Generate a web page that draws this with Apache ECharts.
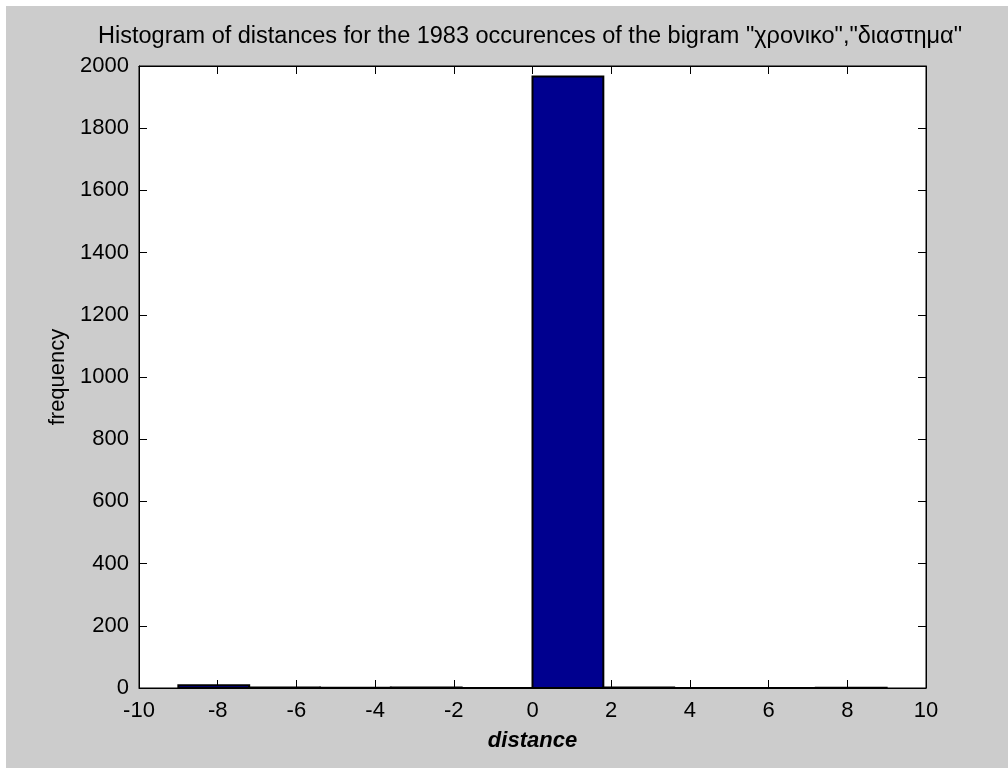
<!DOCTYPE html>
<html>
<head>
<meta charset="utf-8">
<script src="https://cdn.jsdelivr.net/npm/echarts@6/dist/echarts.min.js"></script>
<style>
html,body{margin:0;padding:0;background:#ffffff;}
#c{width:1008px;height:768px;}
</style>
</head>
<body>
<div id="c"></div>
<script>
// Histogram bins (MATLAB hist, 10 bins between -9 and 9)
const binStarts = [-9, -7.2, -5.4, -3.6, -1.8, 0, 1.8, 3.6, 5.4, 7.2];
const binEnds   = [-7.2, -5.4, -3.6, -1.8, 0, 1.8, 3.6, 5.4, 7.2, 9];
const counts    = [9, 2, 1, 2, 0, 1966, 2, 0, 0, 1];
const xTicks = [-10, -8, -6, -4, -2, 0, 2, 4, 6, 8, 10];
const yTicks = [0, 200, 400, 600, 800, 1000, 1200, 1400, 1600, 1800, 2000];
const titleText = 'Histogram of distances for the 1983 occurences of the bigram "χρονικο","διαστημα"';

const FONT = '"Liberation Sans", Arial, sans-serif';
const chart = echarts.init(document.getElementById('c'), null, {renderer: 'canvas'});

const data = binStarts.map((s, i) => [s, binEnds[i], counts[i]]);
const plain = v => String(v);

const option = {
  backgroundColor: '#cccccc',
  animation: false,
  graphic: [
    {type: 'rect', shape: {x: 0, y: 0, width: 1008, height: 6}, style: {fill: '#ffffff'}, silent: true},
    {type: 'rect', shape: {x: 0, y: 0, width: 6, height: 768}, style: {fill: '#ffffff'}, silent: true},
    {type: 'text', x: 530, y: 37, style: {text: titleText, font: '23.5px ' + FONT, fill: '#000', textAlign: 'center', textVerticalAlign: 'middle'}, silent: true}
  ],
  grid: {left: 139, top: 66, right: 82, bottom: 80, show: true, backgroundColor: '#ffffff', borderColor: '#000', borderWidth: 1},
  xAxis: [
    {type: 'value', min: xTicks[0], max: xTicks[xTicks.length - 1], interval: 2, position: 'bottom',
     name: 'distance', nameLocation: 'middle', nameGap: 42,
     nameTextStyle: {fontFamily: FONT, fontSize: 22, fontWeight: 'bold', fontStyle: 'italic', color: '#000'},
     axisLine: {show: true, onZero: false, lineStyle: {color: '#000', width: 1}},
     axisTick: {show: true, inside: true, length: 8, lineStyle: {color: '#000'}},
     axisLabel: {fontFamily: FONT, fontSize: 22, color: '#000', margin: 12, formatter: plain},
     splitLine: {show: false}},
    {type: 'value', min: xTicks[0], max: xTicks[xTicks.length - 1], interval: 2, position: 'top',
     axisLine: {show: true, onZero: false, lineStyle: {color: '#000', width: 1}},
     axisTick: {show: true, inside: true, length: 8, lineStyle: {color: '#000'}},
     axisLabel: {show: false}, splitLine: {show: false}}
  ],
  yAxis: [
    {type: 'value', min: yTicks[0], max: yTicks[yTicks.length - 1], interval: 200, position: 'left',
     name: 'frequency', nameLocation: 'middle', nameGap: 64,
     nameTextStyle: {fontFamily: FONT, fontSize: 22, color: '#000'},
     axisLine: {show: true, onZero: false, lineStyle: {color: '#000', width: 1}},
     axisTick: {show: true, inside: true, length: 8, lineStyle: {color: '#000'}},
     axisLabel: {fontFamily: FONT, fontSize: 22, color: '#000', margin: 10, formatter: plain},
     splitLine: {show: false}},
    {type: 'value', min: yTicks[0], max: yTicks[yTicks.length - 1], interval: 200, position: 'right',
     axisLine: {show: true, onZero: false, lineStyle: {color: '#000', width: 1}},
     axisTick: {show: true, inside: true, length: 8, lineStyle: {color: '#000'}},
     axisLabel: {show: false}, splitLine: {show: false}}
  ],
  series: [{
    type: 'custom',
    xAxisIndex: 0, yAxisIndex: 0,
    data: data,
    renderItem: function (params, api) {
      const p0 = api.coord([api.value(0), api.value(2)]);
      const p1 = api.coord([api.value(1), 0]);
      return {
        type: 'rect',
        shape: {x: p0[0], y: p0[1], width: p1[0] - p0[0], height: p1[1] - p0[1]},
        style: {fill: '#00008f', stroke: '#000', lineWidth: 2}
      };
    },
    encode: {x: [0, 1], y: 2}
  }]
};
chart.setOption(option);
</script>
</body>
</html>
